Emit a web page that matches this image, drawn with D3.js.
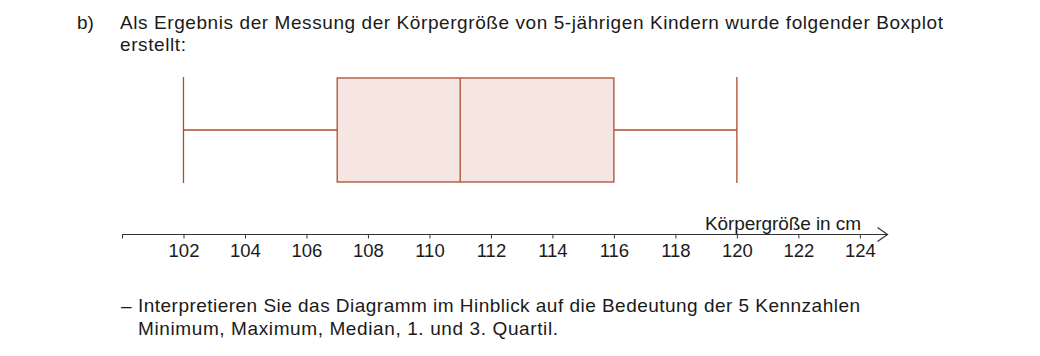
<!DOCTYPE html>
<html><head><meta charset="utf-8">
<script src="https://cdn.jsdelivr.net/npm/d3@7"></script>
<style>
html,body{margin:0;padding:0;background:#fff;}
svg{display:block;}
text{font-family:"Liberation Sans",Arial,Helvetica,sans-serif;fill:#1a1a1a;}
</style></head>
<body><svg id="c" width="1040" height="356"></svg>
<script>
// Data
const stats = {min:102, q1:107, median:111, q3:116, max:120};
const tickValues = [100,102,104,106,108,110,112,114,116,118,120,122,124];
const tickLabels = ["","102","104","106","108","110","112","114","116","118","120","122","124"];
const axisTitle = "Körpergröße in cm";
const headerLines = ["Als Ergebnis der Messung der Körpergröße von 5-jährigen Kindern wurde folgender Boxplot","erstellt:"];
const headerWidths = [823, 66];
const taskLines = ["Interpretieren Sie das Diagramm im Hinblick auf die Bedeutung der 5 Kennzahlen","Minimum, Maximum, Median, 1. und 3. Quartil."];
const taskWidths = [722, 420];

const svg = d3.select("#c");
const x = d3.scaleLinear().domain([100,125]).range([122,890.6]);
const axisY = 234.5;
const boxTop = 78, boxBot = 182, midY = 130;
const stroke = "#b04a32", fill = "#f6e6e2";
const fs = 19;

// header
svg.append("text").attr("x",77).attr("y",29).attr("font-size",fs).text("b)");
svg.selectAll("text.h").data(headerLines).enter().append("text").attr("class","h")
  .attr("x",120).attr("y",(d,i)=>29+i*22).attr("font-size",fs)
  .attr("textLength",(d,i)=>headerWidths[i]).attr("lengthAdjust","spacing").text(d=>d);

// box plot
const g = svg.append("g");
g.append("line").attr("x1",x(stats.min)).attr("x2",x(stats.q1)).attr("y1",midY).attr("y2",midY)
  .attr("stroke",stroke).attr("stroke-width",1.3);
g.append("line").attr("x1",x(stats.q3)).attr("x2",x(stats.max)).attr("y1",midY).attr("y2",midY)
  .attr("stroke",stroke).attr("stroke-width",1.3);
g.append("rect").attr("x",x(stats.q1)).attr("y",boxTop).attr("width",x(stats.q3)-x(stats.q1)).attr("height",boxBot-boxTop)
  .attr("fill",fill).attr("stroke",stroke).attr("stroke-width",1.3);
g.append("line").attr("x1",x(stats.median)).attr("x2",x(stats.median)).attr("y1",boxTop).attr("y2",boxBot)
  .attr("stroke",stroke).attr("stroke-width",1.3);
[stats.min, stats.max].forEach(v=>{
  g.append("line").attr("x1",x(v)).attr("x2",x(v)).attr("y1",boxTop-1).attr("y2",boxBot+1)
   .attr("stroke",stroke).attr("stroke-width",1.3);
});

// axis
const ax = svg.append("g").attr("transform",`translate(0,${axisY})`)
  .call(d3.axisBottom(x).tickValues(tickValues).tickSize(4).tickPadding(5)
    .tickFormat((d,i)=>tickLabels[i]));
ax.select(".domain").remove();
ax.selectAll(".tick line").attr("stroke","#333").attr("stroke-width",1);
ax.selectAll(".tick text").attr("font-size",18.5).attr("fill","#1a1a1a")
  .attr("font-family","Liberation Sans, Arial, sans-serif");
const tipX = x(124.9);
svg.append("line").attr("x1",x(100)).attr("x2",tipX).attr("y1",axisY).attr("y2",axisY)
  .attr("stroke","#333").attr("stroke-width",1.2);
svg.append("path").attr("d",`M${tipX-10},${axisY-7}L${tipX},${axisY}L${tipX-10},${axisY+7}`)
  .attr("fill","none").attr("stroke","#333").attr("stroke-width",1.2);
svg.append("text").attr("x",705).attr("y",axisY-4.5)
  .attr("font-size",fs).attr("textLength",156).attr("lengthAdjust","spacing").text(axisTitle);

// task text
svg.append("text").attr("x",121).attr("y",312).attr("font-size",fs).text("–");
svg.selectAll("text.t").data(taskLines).enter().append("text").attr("class","t")
  .attr("x",138).attr("y",(d,i)=>312+i*23).attr("font-size",fs)
  .attr("textLength",(d,i)=>taskWidths[i]).attr("lengthAdjust","spacing").text(d=>d);
</script></body></html>
